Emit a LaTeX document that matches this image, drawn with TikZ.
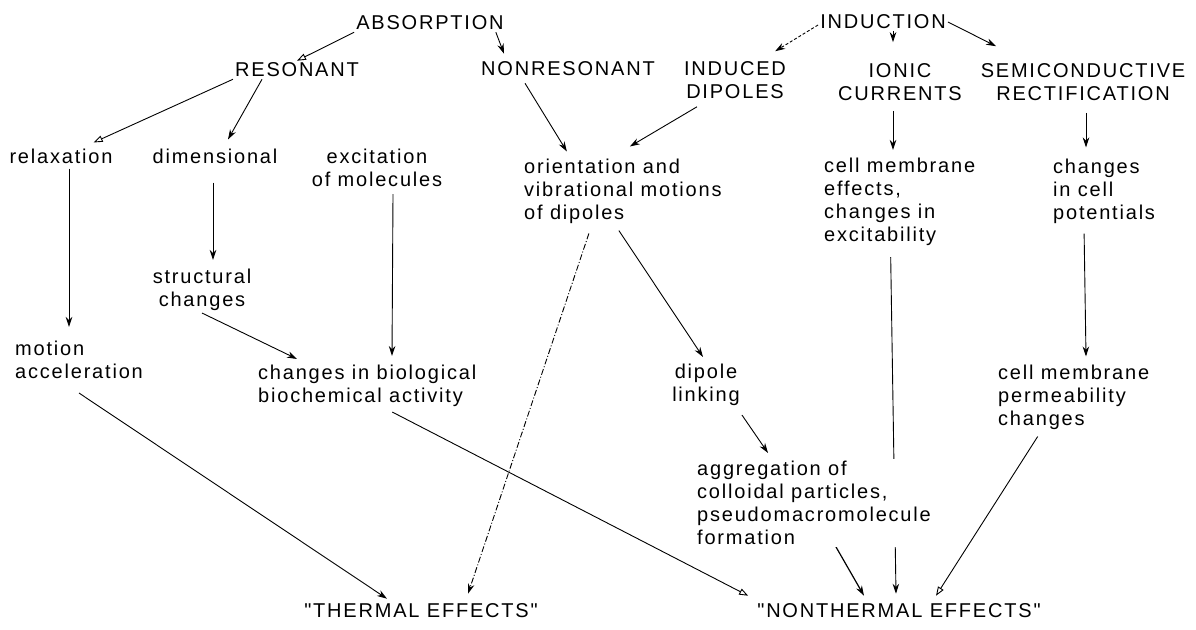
\documentclass[tikz,border=0pt]{standalone}
\usepackage{fontspec}
\usepackage{tikz}
\usetikzlibrary{arrows.meta,calc,positioning,backgrounds}
\newfontfamily\diagfamily{Liberation Sans}[LetterSpace=9]
\newcommand{\diagfont}{\diagfamily\fontsize{20}{23}\selectfont}

\begin{document}
\begin{tikzpicture}[x=1pt,y=-1pt,
	  every node/.style={font=\diagfont,inner sep=2pt},
	  heading/.style={align=center},
	  stage/.style={align=center},
	  effect/.style={align=left,anchor=west},
	  final/.style={align=center},
	  to/.style={->,>={Stealth[length=10pt,width=6.5pt]},line width=0.9pt},
	  toopen/.style={->,>={Triangle[open,length=9pt,width=6.5pt]},line width=0.9pt},
	  dashdot/.style={dash pattern=on 6pt off 2pt on 1pt off 2pt}]

	  \useasboundingbox (0,0) rectangle (1196,629);

	  % Position the nodes at coordinates
	  \node[heading] (absorption) at (430,23) {ABSORPTION};
	  \node[heading] (induction) at (883,22) {INDUCTION};
	  \node[stage] (resonant) at (297,70) {RESONANT};
	  \node[stage] (nonresonant) at (568,69) {NONRESONANT};
	  \node[stage] (induced) at (735,80) {INDUCED\\DIPOLES};
	  \node[stage] (ionic) at (900,82) {IONIC\\CURRENTS};
	  \node[stage] (semicond) at (1083,82) {SEMICONDUCTIVE\\RECTIFICATION};
	  \node[stage] (relaxation) at (61,156) {relaxation};
	  \node[stage] (dimensional) at (215,156) {dimensional};
	  \node[stage] (excitation) at (377,168) {excitation\\of molecules};
	  \node[effect] (orientation) at (522,191) {orientation and\\vibrational motions\\of dipoles};
	  \node[effect] (membrane) at (822,202) {cell membrane\\effects,\\changes in\\excitability};
	  \node[effect] (potentials) at (1051,191) {changes\\in cell\\potentials};
	  \node[stage] (structural) at (202,290) {structural\\changes};
	  \node[effect] (motion) at (13,360) {motion\\acceleration};
	  \node[effect] (biochem) at (256,386) {changes in biological\\biochemical activity};
	  \node[stage] (linking) at (706,385) {dipole\\linking};
	  \node[effect] (permeability) at (996,397) {cell membrane\\permeability\\changes};
	  \node[effect,fill=white] (aggregation) at (695,503) {aggregation of\\colloidal particles,\\pseudomacromolecule\\formation};
	  \node[final] (thermal) at (421,611) {"THERMAL EFFECTS"};
	  \node[final] (nonthermal) at (899,611) {"NONTHERMAL EFFECTS"};

	  \begin{scope}[on background layer]
	  \draw[toopen] (absorption.south west) -- (resonant.north);
	  \draw[to] ([xshift=-10pt]absorption.south east) -- ([xshift=25pt,yshift=6pt]nonresonant.north west);
	  \draw[to,densely dashed] ([yshift=-3pt]induction.west) -- ([xshift=-13pt,yshift=8pt]induced.north east);
	  \draw[to] ([xshift=10pt]induction.south) -- ([xshift=-7pt,yshift=19pt]ionic.north);
	  \draw[to] (induction.east) -- ([xshift=-87pt,yshift=15pt]semicond.north);

	  \draw[toopen] (resonant.south west) -- ([xshift=-21pt,yshift=4pt]relaxation.north east);
	  \draw[to] ([xshift=-35pt]resonant.south) -- ([xshift=13pt,yshift=7pt]dimensional.north);
	  \draw[to] ([xshift=-43pt,yshift=-5pt]nonresonant.south) -- ([xshift=-56pt,yshift=5pt]orientation.north);
	  \draw[to] ([xshift=-38pt,yshift=-6pt]induced.south) -- ([xshift=7pt,yshift=10pt]orientation.north);
	  \draw[to] ([xshift=-7pt,yshift=-8pt]ionic.south) -- ([xshift=-7pt,yshift=6pt]ionic.south |- membrane.north);
	  \draw[to] ([xshift=3pt,yshift=-10pt]semicond.south) -- ([xshift=3pt,yshift=9pt]semicond.south |- potentials.north);

	  \draw[to] ([xshift=8pt,yshift=-3pt]relaxation.south) -- ([xshift=8pt,yshift=12pt]relaxation.south |- motion.north);
	  \draw[to] ([xshift=-2pt,yshift=-17pt]dimensional.south) -- ([xshift=-2pt,yshift=7pt]dimensional.south |- structural.north);
	  \draw[to] ([xshift=16pt,yshift=-5pt]excitation.south) -- ([xshift=15pt,yshift=7pt]excitation.south |- biochem.north);
	  \draw[to] (structural.south) -- ([xshift=41pt,yshift=4pt]biochem.north west);
	  \draw[to] ([xshift=-4pt,yshift=-5pt]orientation.south) -- ([xshift=-3pt,yshift=5pt]linking.north);
	  \draw[to] ([yshift=-7pt]linking.south east) -- ([xshift=73pt,yshift=6pt]aggregation.north west);
	  \draw[to] ([xshift=-20pt,yshift=-8pt]potentials.south) -- ([xshift=90pt,yshift=6pt]permeability.north west);

	  \draw[to] ([yshift=-12pt]motion.south) -- ([xshift=-34pt,yshift=3pt]thermal.north);
	  \draw[to,dashdot] ([xshift=-34pt,yshift=-8pt]orientation.south) -- ([xshift=47pt,yshift=8pt]thermal.north);
	  \draw[toopen] ([xshift=25pt,yshift=-3pt]biochem.south) -- ([xshift=-7pt,yshift=6pt]nonthermal.north west);
	  \draw[to,line width=1.2pt] ([xshift=14pt,yshift=14pt]aggregation.south) -- ([xshift=-35pt,yshift=6pt]nonthermal.north);
	  \draw[to] ([xshift=-9pt,yshift=-9pt]membrane.south) -- ([xshift=-3pt,yshift=8pt]nonthermal.north);
	  \draw[toopen] ([xshift=-36pt,yshift=-5pt]permeability.south) -- ([xshift=37pt,yshift=6pt]nonthermal.north);
	  \end{scope}
\end{tikzpicture}
\end{document}
